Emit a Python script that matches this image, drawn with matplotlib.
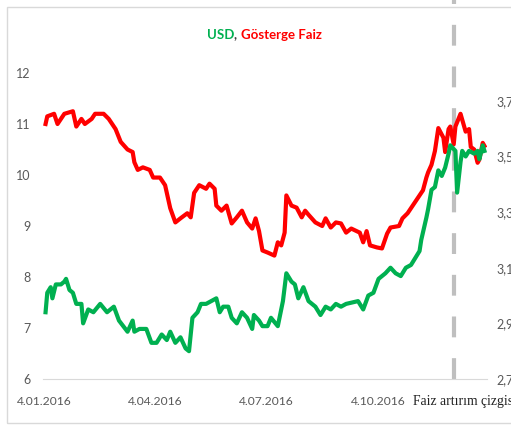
import matplotlib
matplotlib.use("Agg")
import matplotlib.pyplot as plt
from matplotlib.patches import Rectangle
from matplotlib.ticker import FuncFormatter
import pandas as pd

# trading days of 2016, used as the category axis
days = pd.bdate_range("2016-01-04", "2016-12-30")
tick_idx = [0, 65, 130, 196]
tick_labels = [days[i].strftime("%-d.%m.%Y") for i in tick_idx]
hike_idx = 240

# benchmark bond yield (%), left axis
faiz_idx = [1, 2, 6, 8, 12, 17, 19, 22, 24, 28, 30, 35, 38, 42, 45, 49, 52, 53,
            55, 58, 62, 64, 68, 71, 74, 77, 80, 84, 86, 88, 91, 95, 97, 100, 101,
            104, 107, 110, 113, 116, 119, 122, 124, 126, 128, 131, 135, 137, 139,
            141, 142, 145, 148, 151, 153, 155, 159, 163, 165, 168, 171, 174, 177,
            180, 185, 187, 189, 191, 195, 198, 201, 203, 208, 210, 213, 216, 219,
            222, 224, 225, 227, 229, 231, 234, 235, 237, 238, 240, 241, 244, 247,
            249, 250, 252, 254, 255, 257, 258]
faiz_val = [11.0, 11.15, 11.2, 11.0, 11.2, 11.25, 10.95, 11.1, 11.0, 11.1, 11.2,
            11.2, 11.1, 10.9, 10.65, 10.5, 10.45, 10.25, 10.1, 10.15, 10.1, 9.95,
            9.95, 9.8, 9.35, 9.07, 9.15, 9.25, 9.17, 9.65, 9.8, 9.73, 9.83, 9.73,
            9.4, 9.3, 9.4, 9.05, 9.17, 9.3, 9.07, 8.95, 9.15, 8.9, 8.52, 8.48,
            8.42, 8.68, 8.62, 8.87, 9.6, 9.4, 9.36, 9.17, 9.3, 9.22, 9.07, 9.0,
            9.15, 8.97, 9.07, 9.05, 8.87, 8.95, 8.87, 8.68, 8.9, 8.62, 8.58, 8.56,
            8.85, 8.97, 9.0, 9.15, 9.25, 9.4, 9.55, 9.7, 9.95, 10.05, 10.2, 10.47,
            10.92, 10.73, 10.45, 10.9, 10.95, 10.6, 10.95, 11.2, 10.85, 10.9,
            10.55, 10.5, 10.24, 10.3, 10.63, 10.57]

# USD/TRY, right axis
usd_idx = [1, 2, 4, 5, 7, 10, 12, 13, 15, 17, 19, 22, 23, 26, 29, 33, 37, 41, 44,
           49, 52, 53, 56, 60, 63, 66, 69, 72, 74, 77, 80, 83, 85, 87, 90, 92, 95,
           98, 101, 103, 105, 108, 110, 113, 116, 119, 122, 123, 126, 128, 131,
           133, 137, 140, 142, 145, 147, 149, 152, 155, 159, 162, 165, 168, 171,
           174, 177, 184, 187, 190, 193, 196, 200, 203, 206, 209, 212, 215, 217,
           220, 221, 224, 225, 227, 229, 231, 233, 235, 237, 238, 241, 242, 244,
           245, 247, 249, 252, 254, 255, 257, 258]
usd_val = [2.94, 3.01, 3.03, 2.99, 3.04, 3.04, 3.05, 3.06, 3.02, 3.01, 2.97, 2.97,
           2.9, 2.95, 2.94, 2.97, 2.94, 2.96, 2.91, 2.87, 2.91, 2.87, 2.88, 2.88,
           2.83, 2.83, 2.86, 2.84, 2.87, 2.83, 2.85, 2.81, 2.8, 2.92, 2.94, 2.97,
           2.97, 2.98, 2.99, 2.94, 2.96, 2.96, 2.92, 2.9, 2.94, 2.92, 2.88, 2.93,
           2.91, 2.89, 2.89, 2.92, 2.89, 2.98, 3.08, 3.05, 3.04, 2.99, 3.03, 2.98,
           2.96, 2.93, 2.96, 2.95, 2.97, 2.96, 2.97, 2.98, 2.95, 3.0, 3.01, 3.06,
           3.08, 3.1, 3.08, 3.07, 3.1, 3.11, 3.13, 3.16, 3.2, 3.28, 3.31, 3.38,
           3.39, 3.45, 3.43, 3.46, 3.51, 3.54, 3.52, 3.37, 3.48, 3.52, 3.5, 3.52,
           3.51, 3.52, 3.49, 3.54, 3.52]

plt.rcParams["font.family"] = ["Lato", "DejaVu Sans"]

fig = plt.figure(figsize=(5.11, 4.25), dpi=100)
ax = fig.add_axes([43 / 511, 46 / 425, 444 / 511, 306 / 425])
ax2 = ax.twinx()

# chart area frame
fig.patches.append(Rectangle((7 / 511, 2 / 425), 1.2, 416 / 425,
                             transform=fig.transFigure, fill=False,
                             edgecolor="#D9D9D9", linewidth=1))

ax.axvline(hike_idx, ymin=0, ymax=379 / 306, color="#BFBFBF", linewidth=3,
           dashes=(5, 5), clip_on=False, zorder=1)
ax.plot(faiz_idx, faiz_val, color="#FF0000", linewidth=3, zorder=3,
        solid_joinstyle="round")
ax2.plot(usd_idx, usd_val, color="#00B050", linewidth=3, zorder=3,
         solid_joinstyle="round")

ax.set_xlim(-0.5, len(days) - 0.5)
ax.set_ylim(6, 12)
ax.set_yticks(range(6, 13))
ax2.set_ylim(2.7, 3.8)
ax2.set_yticks([2.7, 2.9, 3.1, 3.3, 3.5, 3.7])
ax2.yaxis.set_major_formatter(FuncFormatter(lambda v, p: f"{v:.1f}".replace(".", ",")))
ax.set_xticks(tick_idx)
ax.set_xticklabels(tick_labels)

for a in (ax, ax2):
    for s in a.spines.values():
        s.set_visible(False)
    a.tick_params(length=0, labelsize=9, labelcolor="#595959")
ax.spines["bottom"].set_visible(True)
ax.spines["bottom"].set_color("#D9D9D9")
ax.tick_params(axis="x", labelsize=8.7, pad=12)
ax.tick_params(axis="y", pad=9)
ax2.tick_params(axis="y", pad=7)

fig.text(413 / 511, 1 - 402 / 425, "Faiz artırım çizgisi", family="Liberation Serif",
         fontsize=9.8, color="#222222", ha="left", va="center")

# two-colour title
title_y = 1 - 35 / 425
t1 = fig.text(207 / 511, title_y, "USD", color="#00B050", fontsize=9.5,
              fontweight="bold", va="center")
fig.canvas.draw()
t2 = fig.text(t1.get_window_extent().x1 / 511, title_y, ", ", color="#404040",
              fontsize=9.5, fontweight="bold", va="center")
fig.canvas.draw()
fig.text(t2.get_window_extent().x1 / 511, title_y, "Gösterge Faiz", color="#FF0000",
         fontsize=9.5, fontweight="bold", va="center")

fig.savefig("out.png", dpi=100)
